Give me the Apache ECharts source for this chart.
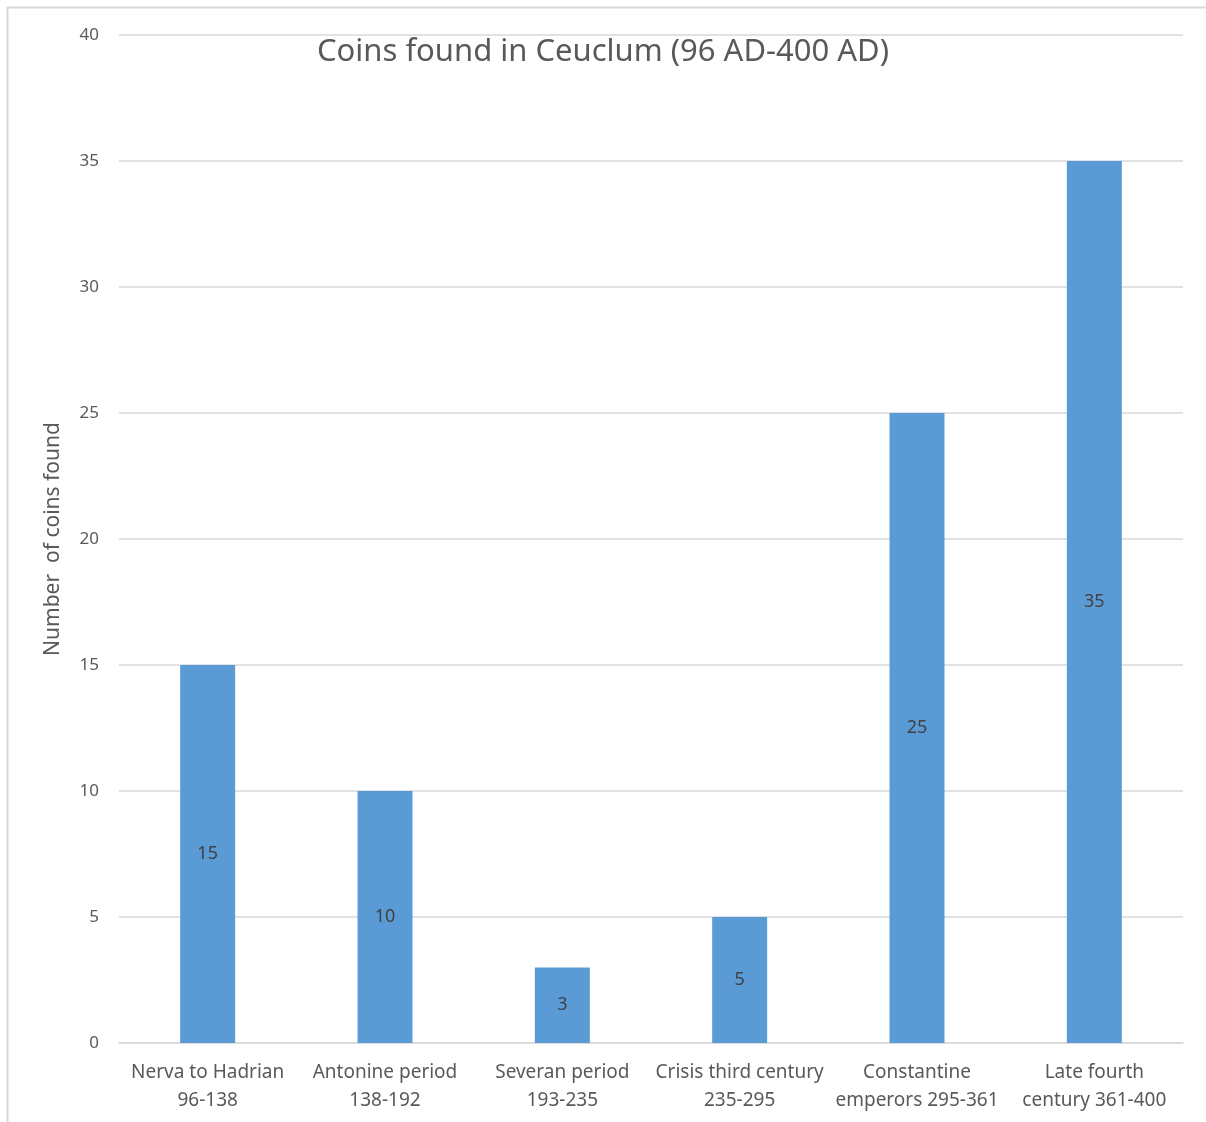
<!DOCTYPE html>
<html>
<head>
<meta charset="utf-8">
<script src="https://cdn.jsdelivr.net/npm/echarts@6/dist/echarts.min.js"></script>
<style>
  html, body { margin: 0; padding: 0; background: #fff; }
  #chart { width: 1206px; height: 1122px; }
</style>
</head>
<body>
<div id="chart"></div>
<script>
// Coin finds per period at Ceuclum
const periods = [
  'Nerva to Hadrian\n96-138',
  'Antonine period\n138-192',
  'Severan period\n193-235',
  'Crisis third century\n235-295',
  'Constantine\nemperors 295-361',
  'Late fourth\ncentury 361-400'
];
const coinCounts = [15, 10, 3, 5, 25, 35];
const yTicks = { min: 0, max: 40, interval: 5 };

const textColor = '#595959';
const font = '"Noto Sans", "Open Sans", sans-serif';

const chart = echarts.init(document.getElementById('chart'));
chart.setOption({
  backgroundColor: '#ffffff',
  animation: false,
  title: {
    text: 'Coins found in Ceuclum (96 AD-400 AD)',
    left: 'center',
    top: 32,
    textStyle: { color: textColor, fontSize: 31, fontWeight: 'normal', fontFamily: font }
  },
  graphic: [{
    type: 'rect',
    shape: { x: 7.5, y: 7.5, width: 1240, height: 1140 },
    style: { fill: 'none', stroke: '#d9d9d9', lineWidth: 2 },
    silent: true
  }],
  grid: { left: 119, right: 23, top: 35, bottom: 79, containLabel: false },
  xAxis: {
    type: 'category',
    data: periods,
    axisLine: { show: true, lineStyle: { color: '#d9d9d9', width: 1.5 } },
    axisTick: { show: false },
    axisLabel: {
      color: textColor, fontSize: 19, fontFamily: font, lineHeight: 28,
      margin: 16, interval: 0
    }
  },
  yAxis: {
    type: 'value',
    min: yTicks.min, max: yTicks.max, interval: yTicks.interval,
    name: 'Number  of coins found',
    nameLocation: 'middle',
    nameGap: 55,
    nameTextStyle: { color: textColor, fontSize: 21, fontFamily: font },
    axisLine: { show: false },
    axisTick: { show: false },
    axisLabel: { color: textColor, fontSize: 17, fontFamily: font, margin: 20 },
    splitLine: { lineStyle: { color: '#d9d9d9', width: 1.5 } }
  },
  series: [{
    type: 'bar',
    data: coinCounts,
    barWidth: 55,
    itemStyle: { color: '#5b9bd5' },
    label: {
      show: true,
      position: 'inside',
      color: '#404040',
      fontSize: 18,
      fontFamily: font
    }
  }]
});
</script>
</body>
</html>
